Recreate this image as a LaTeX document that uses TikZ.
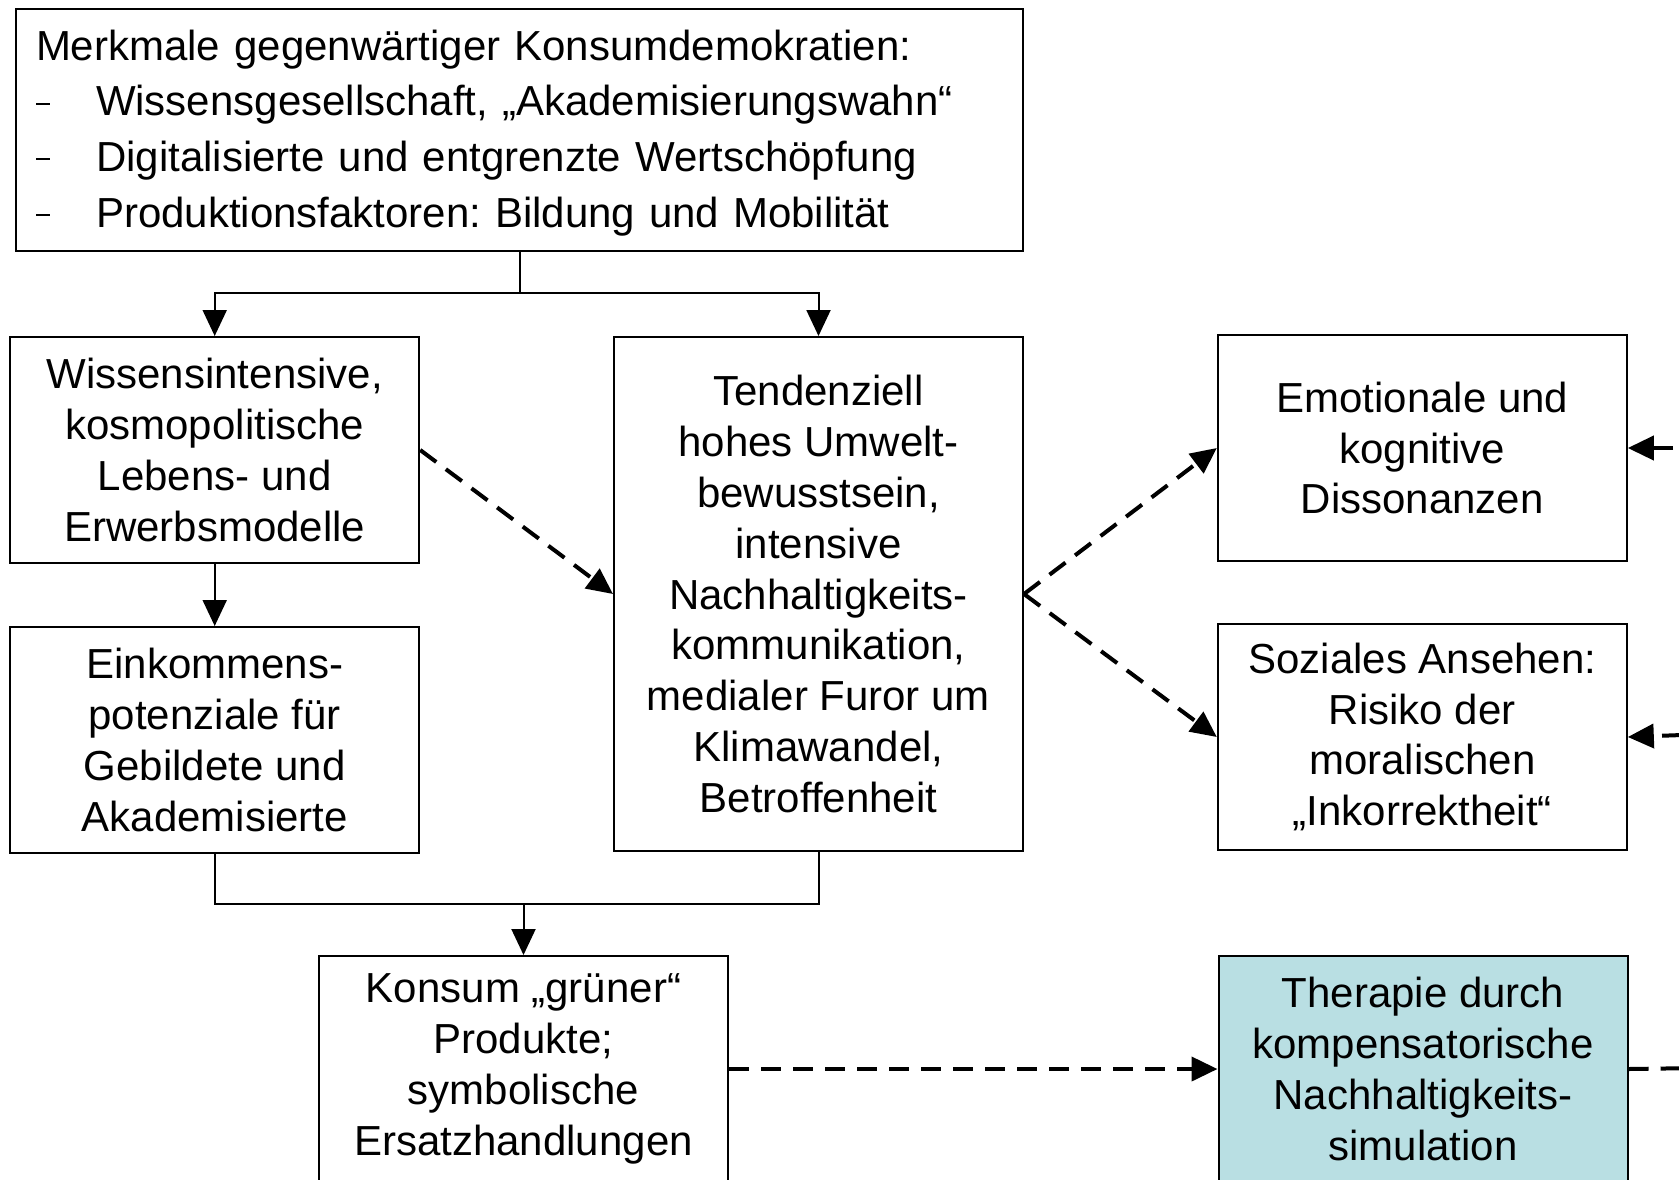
\documentclass[tikz,border=0pt]{standalone}
\usepackage{fontspec}
\setmainfont{Liberation Sans}
\usetikzlibrary{arrows.meta,positioning}
\definecolor{therapyblue}{RGB}{185,223,227}
\frenchspacing
\newcommand{\listdash}{\makebox[30pt][l]{\rule[5.5pt]{7pt}{1pt}}}

\begin{document}
\begin{tikzpicture}[
  x=0.5pt, y=-0.5pt,
  font=\fontsize{21}{25.4}\selectfont,
  box/.style={draw, line width=1pt, align=center, inner sep=0pt, minimum width=204.5pt, minimum height=113pt},
  therapy/.style={box, fill=therapyblue},
  arr/.style={-{Triangle[length=13pt, width=12pt]}, line width=1pt},
  dasharr/.style={-{Triangle[length=13pt, width=12pt]}, line width=2pt, dash pattern=on 10pt off 6pt},
  dashline/.style={line width=2pt, dash pattern=on 10pt off 6pt},
  link/.style={line width=1pt}
]
\useasboundingbox (0,0) rectangle (1679,1179);
\clip (0,0) rectangle (1679,1179);

\node[draw, line width=1pt, anchor=north west, align=left, inner xsep=10pt, inner ysep=4pt, text width=483.5pt,
      minimum width=503.5pt, minimum height=121pt, font=\fontsize{21}{27.8}\selectfont] (merkmale) at (15,7.5)
  {\rule{0pt}{18.5pt}Merkmale gegenwärtiger Konsumdemokratien:\\
   \listdash Wissensgesellschaft, „Akademisierungswahn“\\
   \listdash Digitalisierte und entgrenzte Wertschöpfung\\
   \listdash Produktionsfaktoren: Bildung und Mobilität};

\node[box] (leben) at (214.7,450) {Wissensintensive,\\kosmopolitische\\Lebens- und\\Erwerbsmodelle};
\node[box, below=31pt of leben] (einkommen) {Einkommens-\\potenziale für\\Gebildete und\\Akademisierte};
\node[box, minimum height=257pt, right=96.4pt of leben.north east, anchor=north west] (umwelt)
  {Tendenziell\\hohes Umwelt-\\bewusstsein,\\intensive\\Nachhaltigkeits-\\kommunikation,\\medialer Furor um\\Klimawandel,\\Betroffenheit};
\node[box, right=96.4pt of umwelt.north east, anchor=north west, yshift=1pt] (dissonanz) {Emotionale und\\kognitive\\Dissonanzen};
\node[box, below=30.5pt of dissonanz] (ansehen) {Soziales Ansehen:\\Risiko der\\moralischen\\„Inkorrektheit“};
\node[box, anchor=north west] (konsum) at (318,955) {Konsum „grüner“\\Produkte;\\symbolische\\Ersatzhandlungen};
\node[therapy, anchor=north west] (therapie) at (1217.5,955) {Therapie durch\\kompensatorische\\Nachhaltigkeits-\\simulation};

% junctions and loose ends
\coordinate[below=20.9pt of merkmale.south] (split);
\coordinate[below=25pt of einkommen.south] (join);
\coordinate (emoIn) at (1705,448);
\coordinate (ansIn) at (1682,735);
\coordinate (therOut) at (1700,1068);

\draw[link] (merkmale.south) -- (split);
\draw[arr] (split) -| (leben.north);
\draw[arr] (split) -| (umwelt.north);
\draw[arr] (leben) -- (einkommen);

\draw[link] (einkommen.south) |- (umwelt.south |- join) -- (umwelt.south);
\draw[arr] (join -| konsum.north) -- (konsum.north);

\draw[dasharr] (leben.east) -- (umwelt.west);
\draw[dasharr] (umwelt.east) -- (dissonanz.west);
\draw[dasharr] (umwelt.east) -- (ansehen.west);
\draw[dasharr] (konsum.east) -- (therapie.west);

\draw[dasharr] (emoIn) -- (dissonanz.east);
\draw[dasharr] (ansIn) -- (ansehen.east);
\draw[dashline] (therapie.east) -- (therOut);
\end{tikzpicture}
\end{document}
